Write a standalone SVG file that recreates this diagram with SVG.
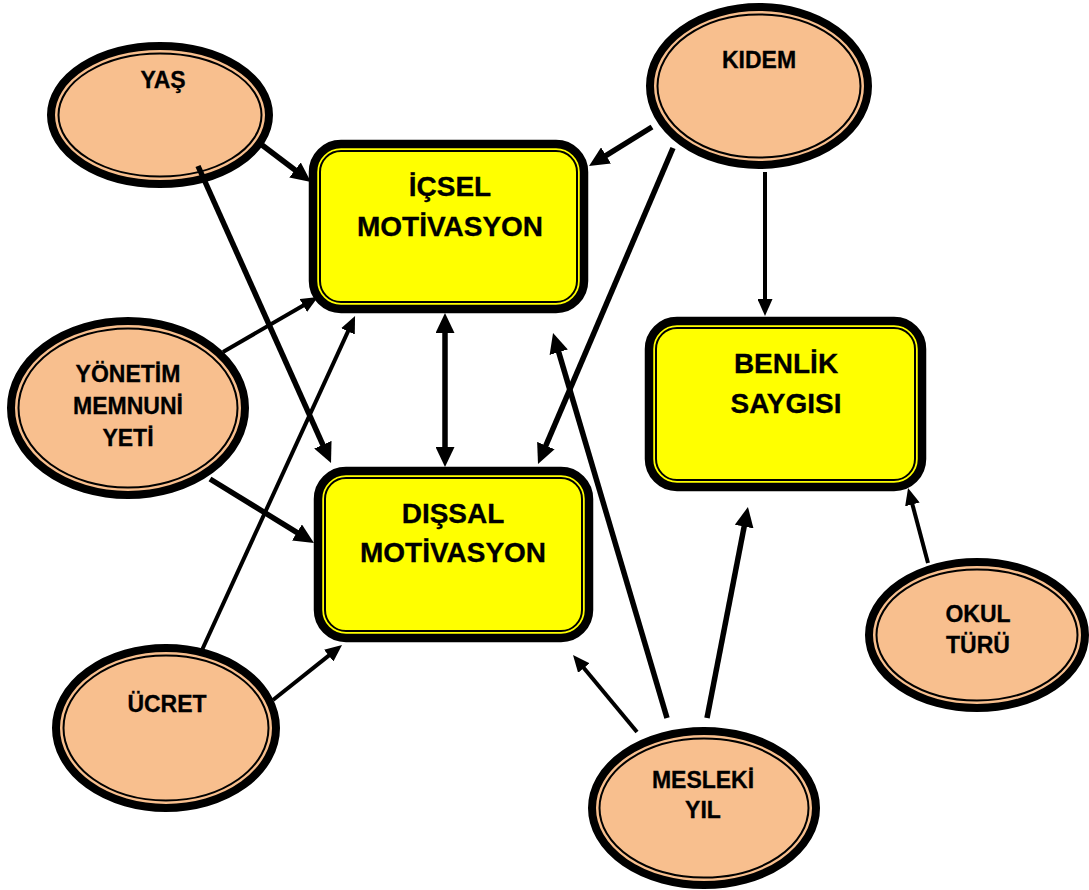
<svg xmlns="http://www.w3.org/2000/svg" width="1089" height="890" viewBox="0 0 1089 890">
  <defs>
    <style>
      .box-outer { fill: #FFFF00; stroke: #000; stroke-width: 8.5; }
      .box-inner { fill: #FFFF00; stroke: #000; stroke-width: 2; }
      .oval-outer { fill: #F8BF8E; stroke: #000; stroke-width: 8; }
      .oval-inner { fill: #F8BF8E; stroke: #000; stroke-width: 2; }
      .lbl-box { font-family: "Liberation Sans", Arial, sans-serif; font-weight: bold; font-size: 28px; fill: #000; stroke: #000; stroke-width: 0.3; text-anchor: middle; }
      .lbl-oval { font-family: "Liberation Sans", Arial, sans-serif; font-weight: bold; font-size: 23px; fill: #000; stroke: #000; stroke-width: 0.3; text-anchor: middle; }
      .thick { stroke: #000; stroke-width: 5.5; fill: none; marker-end: url(#headBig); }
      .thin { stroke: #000; stroke-width: 4; fill: none; marker-end: url(#headSmall); }
    </style>
    <marker id="headBig" markerUnits="userSpaceOnUse" viewBox="0 0 20 19" markerWidth="20" markerHeight="19" refX="5" refY="9.5" orient="auto-start-reverse">
      <path d="M0,0 L20,9.5 L0,19 z" fill="#000"/>
    </marker>
    <marker id="headSmall" markerUnits="userSpaceOnUse" viewBox="0 0 17 15" markerWidth="17" markerHeight="15" refX="2" refY="7.5" orient="auto-start-reverse">
      <path d="M0,0 L17,7.5 L0,15 z" fill="#000"/>
    </marker>
  </defs>

  <rect width="1089" height="890" fill="#FFFFFF"/>

  <!-- rounded boxes -->
  <g id="icsel">
    <rect class="box-outer" x="313" y="144" width="271" height="165" rx="28"/>
    <rect class="box-inner" x="320" y="151" width="257" height="151" rx="21"/>
    <text class="lbl-box" x="450" y="196">İÇSEL</text>
    <text class="lbl-box" x="450" y="236">MOTİVASYON</text>
  </g>
  <g id="dissal">
    <rect class="box-outer" x="318" y="471" width="271" height="167" rx="28"/>
    <rect class="box-inner" x="325" y="478" width="257" height="153" rx="21"/>
    <text class="lbl-box" x="453" y="523">DIŞSAL</text>
    <text class="lbl-box" x="453" y="562">MOTİVASYON</text>
  </g>
  <g id="benlik">
    <rect class="box-outer" x="649" y="321" width="273" height="166" rx="28"/>
    <rect class="box-inner" x="656" y="328" width="259" height="152" rx="21"/>
    <text class="lbl-box" x="786" y="373">BENLİK</text>
    <text class="lbl-box" x="786" y="413">SAYGISI</text>
  </g>

  <!-- ovals -->
  <g id="yas">
    <ellipse class="oval-outer" cx="160" cy="115" rx="109" ry="69"/>
    <ellipse class="oval-inner" cx="160" cy="115" rx="101.5" ry="61.5"/>
    <text class="lbl-oval" x="163" y="88">YAŞ</text>
  </g>
  <g id="kidem">
    <ellipse class="oval-outer" cx="759" cy="86" rx="109" ry="79"/>
    <ellipse class="oval-inner" cx="759" cy="86" rx="101.5" ry="71.5"/>
    <text class="lbl-oval" x="759" y="68">KIDEM</text>
  </g>
  <g id="yonetim">
    <ellipse class="oval-outer" cx="128" cy="408" rx="117" ry="87"/>
    <ellipse class="oval-inner" cx="128" cy="408" rx="109.5" ry="79.5"/>
    <text class="lbl-oval" x="128" y="382">YÖNETİM</text>
    <text class="lbl-oval" x="128" y="414">MEMNUNİ</text>
    <text class="lbl-oval" x="128" y="446">YETİ</text>
  </g>
  <g id="ucret">
    <ellipse class="oval-outer" cx="166" cy="728" rx="110" ry="80"/>
    <ellipse class="oval-inner" cx="166" cy="728" rx="102.5" ry="72.5"/>
    <text class="lbl-oval" x="167" y="712">ÜCRET</text>
  </g>
  <g id="mesleki">
    <ellipse class="oval-outer" cx="704" cy="808" rx="112" ry="77"/>
    <ellipse class="oval-inner" cx="704" cy="808" rx="104.5" ry="69.5"/>
    <text class="lbl-oval" x="703" y="788">MESLEKİ</text>
    <text class="lbl-oval" x="703" y="818">YIL</text>
  </g>
  <g id="okul">
    <ellipse class="oval-outer" cx="977" cy="635" rx="108" ry="73"/>
    <ellipse class="oval-inner" cx="977" cy="635" rx="100.5" ry="65.5"/>
    <text class="lbl-oval" x="978" y="622">OKUL</text>
    <text class="lbl-oval" x="978" y="653">TÜRÜ</text>
  </g>

  <!-- connectors -->
  <g id="connectors">
    <line class="thick" x1="262" y1="145" x2="299" y2="173"/>
    <line class="thick" x1="198" y1="166" x2="324.9" y2="449.3"/>
    <line class="thin" x1="223" y1="352" x2="305" y2="304.5"/>
    <line class="thick" x1="210" y1="479" x2="301.2" y2="535.1"/>
    <line class="thin" x1="202" y1="650" x2="348.8" y2="329.6"/>
    <line class="thin" x1="273" y1="700" x2="330.3" y2="654.4"/>
    <line class="thick" x1="445" y1="328" x2="445" y2="452" style="marker-start: url(#headBig)"/>
    <line class="thick" x1="652" y1="127" x2="601.8" y2="158.1"/>
    <line class="thick" x1="673" y1="148" x2="543.9" y2="450.2"/>
    <line class="thin" x1="765" y1="172" x2="765" y2="301"/>
    <line class="thick" x1="667" y1="718" x2="557.3" y2="347.4"/>
    <line class="thin" x1="637" y1="732" x2="582.6" y2="666.5"/>
    <line class="thick" x1="707" y1="718" x2="745.1" y2="521.7"/>
    <line class="thin" x1="928" y1="563" x2="911.9" y2="502.5"/>
  </g>
</svg>
